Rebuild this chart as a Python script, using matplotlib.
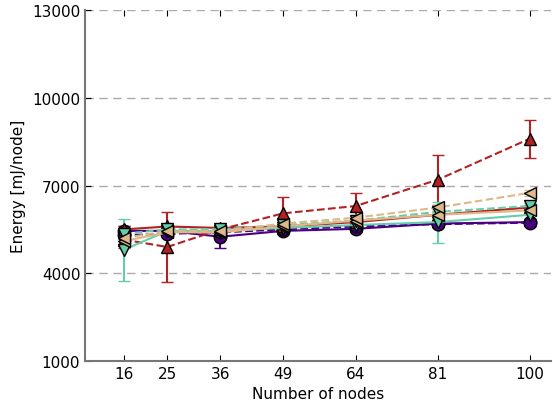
import matplotlib
matplotlib.use("Agg")
import matplotlib.pyplot as plt
import numpy as np

nodes = [16, 25, 36, 49, 64, 81, 100]

purple_solid = [5450, 5450, 5250, 5450, 5520, 5700, 5750]
purple_dashed = [5300, 5350, 5400, 5500, 5600, 5680, 5730]
red_solid = [5500, 5600, 5550, 5600, 5750, 6000, 6250]
red_dashed = [5150, 4900, 5500, 6050, 6300, 7200, 8600]
teal_solid = [4800, 5450, 5450, 5550, 5650, 5750, 6000]
teal_dashed = [5350, 5500, 5500, 5650, 5800, 6100, 6300]
tan_solid = [5100, 5400, 5400, 5600, 5800, 6000, 6150]
tan_dashed = [5200, 5450, 5450, 5700, 5900, 6250, 6750]

purple_err = [150, 100, 400, 100, 100, 100, 100]
red_dashed_err = [300, 1200, 150, 550, 450, 850, 650]
teal_err = [1050, 150, 150, 150, 150, 700, 200]
small_err = [100, 100, 100, 100, 100, 100, 100]

series = [
    (purple_solid, purple_err, "#4b0082", "-", "o"),
    (purple_dashed, small_err, "#4b0082", "--", "o"),
    (red_solid, small_err, "#b22222", "-", "^"),
    (red_dashed, red_dashed_err, "#b22222", "--", "^"),
    (teal_solid, teal_err, "#66cdaa", "-", "v"),
    (teal_dashed, small_err, "#66cdaa", "--", "v"),
    (tan_solid, small_err, "#deb887", "-", "<"),
    (tan_dashed, small_err, "#deb887", "--", "<"),
]

fig, ax = plt.subplots(figsize=(5.53, 4.10), dpi=100)
fig.subplots_adjust(left=0.154, right=0.997, top=0.973, bottom=0.117)

for vals, err, color, ls, mk in series:
    ax.errorbar(nodes, vals, yerr=err, color=color, linestyle=ls, linewidth=1.5,
                marker=mk, markersize=9, markeredgecolor="black", markeredgewidth=1,
                capsize=4, elinewidth=1.5)

ax.set_xlim(8, 104.5)
ax.set_ylim(1000, 13000)
ax.set_xticks(nodes)
ax.set_yticks([1000, 4000, 7000, 10000, 13000])
ax.grid(axis="y", color="#aaaaaa", linestyle="--", linewidth=1, dashes=(6, 4))
ax.set_axisbelow(True)

for s in ["top", "right"]:
    ax.spines[s].set_visible(False)
for s in ["left", "bottom"]:
    ax.spines[s].set_color("#777777")
    ax.spines[s].set_linewidth(1.5)

ax.tick_params(direction="in", top=True, right=False, length=4, labelsize=11)
ax.set_xlabel("Number of nodes", fontsize=11)
ax.set_ylabel("Energy [mJ/node]", fontsize=11)

plt.savefig("out.png", dpi=100)
